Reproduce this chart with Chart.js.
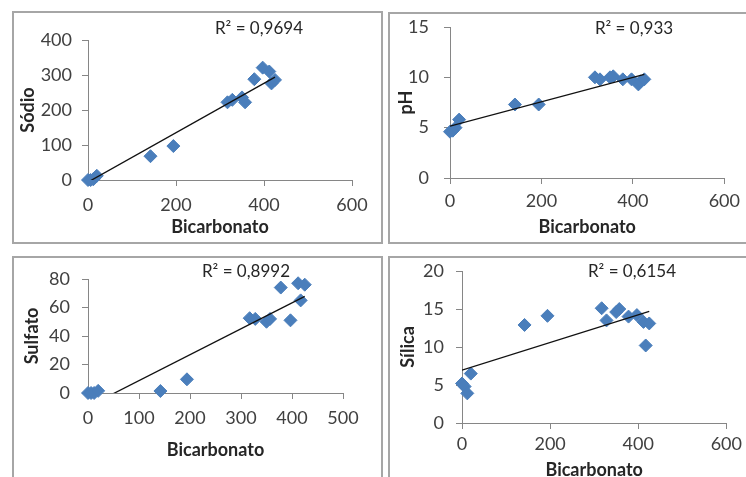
<!DOCTYPE html>
<html>
<head>
<meta charset="utf-8">
<script src="https://cdn.jsdelivr.net/npm/chart.js@4/dist/chart.umd.min.js"></script>
<style>
  html, body { margin: 0; padding: 0; background: #fff; }
  body { width: 746px; height: 477px; position: relative; overflow: hidden; }
  .box { position: absolute; border: 2px solid #a6a6a6; box-sizing: border-box; }
  canvas { position: absolute; }
</style>
</head>
<body>
<div class="box" style="left:12px;top:11px;width:371px;height:233px"></div>
<div class="box" style="left:388px;top:12px;width:380px;height:232px"></div>
<div class="box" style="left:12px;top:256px;width:371px;height:240px"></div>
<div class="box" style="left:388px;top:256px;width:380px;height:240px"></div>

<canvas id="c1" width="385" height="245" style="left:0;top:0"></canvas>
<canvas id="c2" width="361" height="245" style="left:385px;top:0"></canvas>
<canvas id="c3" width="385" height="245" style="left:0;top:245px"></canvas>
<canvas id="c4" width="361" height="245" style="left:385px;top:245px"></canvas>

<script>
// bicarbonato das amostras (mesmas amostras nos 4 gráficos)
const bicarbonato = [0, 6, 12, 20, 142, 194, 317, 328, 350, 357, 378, 397, 412, 417, 425];
const sodio   = [0, 0, 2, 12, 68, 97, 222, 229, 236, 222, 288, 321, 310, 276, 286];
const ph      = [4.6, 4.7, 5.0, 5.8, 7.3, 7.3, 10.0, 9.8, 10.0, 10.1, 9.8, 9.8, 9.3, 9.6, 9.8];
const sulfato = [0, 0, 0, 1.5, 1.4, 9.6, 52.5, 52, 50, 52, 74, 51, 77, 65, 76];
const silica  = [5.2, 4.8, 3.9, 6.5, 12.9, 14.1, 15.1, 13.5, 14.6, 15.0, 14.0, 14.2, 13.3, 10.2, 13.1];

// linhas de tendência (valores no início e fim)
const trendX = [0, 425];
const trendSodio   = [-6, 294];
const trendPh      = [5.15, 10.3];
const trendSulfato = [-9.5, 67.8];
const trendSilica  = [6.95, 14.7];

const r2 = ['R² = 0,9694', 'R² = 0,933', 'R² = 0,8992', 'R² = 0,6154'];

const FONT = 'Lato';
const BLUE = '#4a7ebb';
const AXIS = '#868686';

// escreve o R² na posição dada (pixels do canvas)
const r2Label = {
  id: 'r2Label',
  afterDraw(chart, args, opts) {
    const ctx = chart.ctx;
    ctx.save();
    ctx.font = '17px ' + FONT;
    ctx.fillStyle = '#262626';
    ctx.textAlign = 'center';
    ctx.textBaseline = 'middle';
    ctx.fillText(opts.text, opts.x, opts.y);
    ctx.restore();
  }
};

function makePanel(id, p) {
  const pts = bicarbonato.map((x, i) => ({x: x, y: p.values[i]}));
  const line = trendX.map((x, i) => ({x: x, y: p.trend[i]}));
  return new Chart(document.getElementById(id), {
    type: 'scatter',
    data: {
      datasets: [
        {
          type: 'line',
          data: line,
          borderColor: '#111',
          borderWidth: 1.3,
          pointRadius: 0,
          fill: false,
          clip: 0,
          order: 0
        },
        {
          data: pts,
          pointStyle: 'rectRot',
          pointRadius: 6.5,
          backgroundColor: BLUE,
          borderColor: BLUE,
          borderWidth: 1,
          clip: false,
          order: 1
        }
      ]
    },
    options: {
      responsive: false,
      animation: false,
      events: [],
      layout: {padding: {left: 0, top: p.top, right: p.right, bottom: 0}},
      plugins: {
        legend: {display: false},
        tooltip: {enabled: false},
        r2Label: {text: p.r2, x: p.r2x, y: p.r2y}
      },
      scales: {
        x: {
          type: 'linear',
          min: 0,
          max: p.xmax,
          afterFit: s => { s.height = p.below; },
          ticks: {stepSize: p.xstep, color: '#404040', font: {family: FONT, size: 18}, padding: p.xpad, maxRotation: 0},
          grid: {display: true, drawOnChartArea: false, drawTicks: true, tickLength: 6, color: AXIS},
          border: {color: AXIS, width: 1},
          title: {display: true, text: 'Bicarbonato', color: '#262626',
                  font: {family: FONT, size: 18, weight: 'bold'}, padding: {top: 0, bottom: p.xtitle}}
        },
        y: {
          min: 0,
          max: p.ymax,
          afterFit: s => { s.width = p.left; },
          ticks: {stepSize: p.ystep, color: '#404040', font: {family: FONT, size: 18}, padding: p.ypad},
          grid: {display: true, drawOnChartArea: false, drawTicks: true, tickLength: 6, color: AXIS},
          border: {color: AXIS, width: 1},
          title: {display: true, text: p.ytitle, color: '#262626',
                  font: {family: FONT, size: 18, weight: 'bold'}, padding: {top: p.ytpad, bottom: 0}}
        }
      }
    },
    plugins: [r2Label]
  });
}

makePanel('c1', {values: sodio, trend: trendSodio, ytitle: 'Sódio', r2: r2[0],
  xmax: 600, xstep: 200, ymax: 400, ystep: 100,
  left: 88, right: 33, top: 40, below: 65, xpad: 8, ypad: 10, xtitle: 7, ytpad: 17,
  r2x: 259, r2y: 29});

makePanel('c2', {values: ph, trend: trendPh, ytitle: 'pH', r2: r2[1],
  xmax: 600, xstep: 200, ymax: 15, ystep: 5,
  left: 65, right: 17, top: 27, below: 67, xpad: 6, ypad: 15, xtitle: 7, ytpad: 10,
  r2x: 249, r2y: 29});

makePanel('c3', {values: sulfato, trend: trendSulfato, ytitle: 'Sulfato', r2: r2[2],
  xmax: 500, xstep: 100, ymax: 80, ystep: 20,
  left: 88, right: 42, top: 34, below: 97, xpad: 8, ypad: 12, xtitle: 29, ytpad: 21,
  r2x: 246, r2y: 27});

makePanel('c4', {values: silica, trend: trendSilica, ytitle: 'Sílica', r2: r2[3],
  xmax: 600, xstep: 200, ymax: 20, ystep: 5,
  left: 77, right: 17, top: 26, below: 67, xpad: 4, ypad: 12, xtitle: 9, ytpad: 12,
  r2x: 247, r2y: 27});
</script>
</body>
</html>
